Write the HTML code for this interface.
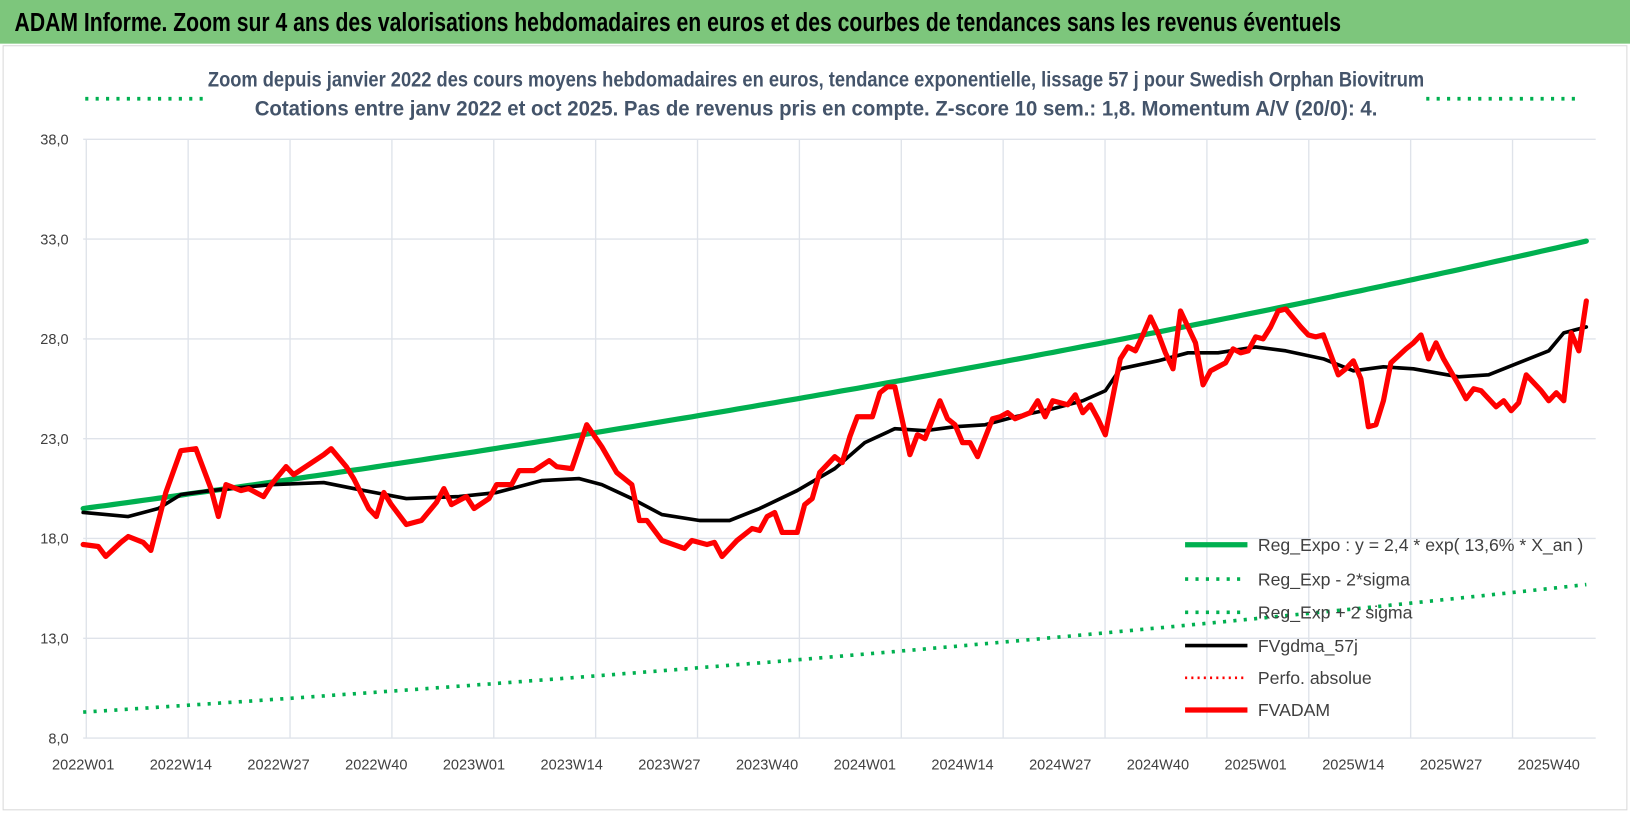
<!DOCTYPE html>
<html><head><meta charset="utf-8"><style>
html,body{margin:0;padding:0;background:#fff;width:1630px;height:815px;overflow:hidden}
svg{display:block;font-family:"Liberation Sans",sans-serif}
</style></head><body>
<svg id="chart" width="1630" height="815" viewBox="0 0 1568 784" preserveAspectRatio="none">
<rect x="0" y="0" width="1568" height="784" fill="#fff"/>
<rect x="0" y="0" width="1568" height="42" fill="#7dc67c"/>
<text x="14" y="30" font-size="25" font-weight="bold" fill="#000" textLength="1276" lengthAdjust="spacingAndGlyphs">ADAM Informe. Zoom sur 4 ans des valorisations hebdomadaires en euros et des courbes de tendances sans les revenus éventuels</text>
<rect x="3" y="44" width="1562" height="735" fill="none" stroke="#d9d9d9" stroke-width="1"/>
<text x="785" y="83" font-size="20" font-weight="bold" fill="#44546a" text-anchor="middle" textLength="1170" lengthAdjust="spacingAndGlyphs">Zoom depuis janvier 2022 des cours moyens hebdomadaires en euros, tendance exponentielle, lissage 57 j pour Swedish Orphan Biovitrum</text>
<text x="785" y="111" font-size="20" font-weight="bold" fill="#44546a" text-anchor="middle" textLength="1080" lengthAdjust="spacingAndGlyphs">Cotations entre janv 2022 et oct 2025. Pas de revenus pris en compte. Z-score 10 sem.: 1,8. Momentum A/V (20/0): 4.</text>
<line x1="82" y1="95" x2="196" y2="95" stroke="#00b050" stroke-width="3.5" stroke-dasharray="3,7"/>
<line x1="1372" y1="95" x2="1522" y2="95" stroke="#00b050" stroke-width="3.5" stroke-dasharray="3,7"/>
<g id="grid"></g><g id="axes"></g><g id="series"></g><g id="legend"></g>
</svg>
<script>
const xLabels=["2022W01","2022W14","2022W27","2022W40","2023W01","2023W14","2023W27","2023W40","2024W01","2024W14","2024W27","2024W40","2025W01","2025W14","2025W27","2025W40"];
const yTicks=[8,13,18,23,28,33,38];
const redWeeks=[0,2,3,5,6,8,9,11,13,15,17,18,19,21,22,24,25,27,28,30,32,33,35,36,38,39,40,41,43,45,47,48,49,51,52,54,55,57,58,60,62,63,65,67,69,71,73,74,75,77,80,81,83,84,85,87,89,90,91,92,93,95,96,97,98,100,101,102,103,105,106,107,108,110,111,112,114,115,116,117,118,119,121,122,123,124,126,127,128,129,131,132,133,134,135,136,138,139,140,141,142,143,144,145,146,147,148,149,150,152,153,154,155,156,157,158,159,160,162,163,164,165,167,168,169,170,171,172,173,174,176,177,178,179,180,181,183,184,185,186,188,189,190,191,192,194,195,196,197,198,199,200];
const redValues=[17.7,17.6,17.1,17.8,18.1,17.8,17.4,20.3,22.4,22.5,20.5,19.1,20.7,20.4,20.5,20.1,20.7,21.6,21.2,21.7,22.2,22.5,21.6,21.0,19.5,19.1,20.3,19.7,18.7,18.9,19.8,20.5,19.7,20.1,19.5,20.0,20.7,20.7,21.4,21.4,21.9,21.6,21.5,23.7,22.6,21.3,20.7,18.9,18.9,17.9,17.5,17.9,17.7,17.8,17.1,17.9,18.5,18.4,19.1,19.3,18.3,18.3,19.7,20.0,21.3,22.1,21.8,23.1,24.1,24.1,25.3,25.6,25.6,22.2,23.2,23.0,24.9,24.0,23.7,22.8,22.8,22.1,24.0,24.1,24.3,24.0,24.3,24.9,24.1,24.9,24.7,25.2,24.3,24.7,24.0,23.2,27.0,27.6,27.4,28.2,29.1,28.3,27.3,26.5,29.4,28.6,27.8,25.7,26.4,26.8,27.5,27.3,27.4,28.1,28.0,28.6,29.4,29.5,28.6,28.2,28.1,28.2,26.2,26.5,26.9,26.0,23.6,23.7,24.9,26.8,27.5,27.8,28.2,27.0,27.8,27.0,25.7,25.0,25.5,25.4,24.6,24.9,24.4,24.8,26.2,25.4,24.9,25.3,24.9,28.3,27.4,29.9];
const blackWeeks=[0,6,10,13,17,25,32,36,43,50,55,61,66,69,73,77,82,86,90,95,100,104,108,112,116,120,124,129,133,136,138,143,147,151,156,160,165,169,173,177,183,187,191,195,197,200];
const blackValues=[19.3,19.1,19.5,20.2,20.4,20.7,20.8,20.5,20.0,20.1,20.3,20.9,21.0,20.7,20.0,19.2,18.9,18.9,19.5,20.4,21.5,22.8,23.5,23.4,23.6,23.7,24.1,24.5,24.9,25.4,26.5,26.9,27.3,27.3,27.6,27.4,27.0,26.4,26.6,26.5,26.1,26.2,26.8,27.4,28.3,28.6];
const regStart=19.5, regLowStart=9.3, regRate=0.136, nWeeks=201;

const svg=document.getElementById('chart');
const NS='http://www.w3.org/2000/svg';
const X0=80, XSTEP=7.23, YTOP=134, YBOT=710, YMIN=8, YMAX=38;
const xS=i=>X0+i*XSTEP;
const yS=v=>YBOT-(v-YMIN)/(YMAX-YMIN)*(YBOT-YTOP);
function mk(tag,attrs,parent){const e=document.createElementNS(NS,tag);for(const k in attrs)e.setAttribute(k,attrs[k]);parent.appendChild(e);return e;}
const grid=document.getElementById('grid'),axes=document.getElementById('axes'),series=document.getElementById('series'),legend=document.getElementById('legend');
yTicks.forEach(t=>{
  const l=mk('line',{x1:X0,x2:1535,y1:yS(t),y2:yS(t),stroke:'#dfe3ea','stroke-width':1.3},grid);
  
  
  const tx=mk('text',{x:66,y:yS(t)+5,'font-size':14,fill:'#404040','text-anchor':'end'},axes);
  tx.textContent=t.toFixed(1).replace('.',',');
  
  
});
for(let gx=83;gx<=1535;gx+=98){
  const l=mk('line',{x1:gx,x2:gx,y1:YTOP,y2:YBOT,stroke:'#dfe3ea','stroke-width':1.3},grid);
  
  
}
xLabels.forEach((lab,k)=>{
  const tx=mk('text',{x:xS(k*13),y:740,'font-size':14,fill:'#404040','text-anchor':'middle'},axes);
  tx.textContent=lab;
  
  
});
function poly(ws,vs,attrs,name){
  const p=ws.map((w,i)=>xS(w).toFixed(1)+','+yS(vs[i]).toFixed(1)).join(' ');
  const e=mk('polyline',Object.assign({points:p,fill:'none','stroke-linejoin':'round','stroke-linecap':'round'},attrs),series);
  
  
}
const allW=[...Array(nWeeks).keys()];
poly(allW,allW.map(i=>regLowStart*Math.exp(regRate*i/52)),{stroke:'#00b050','stroke-width':3.5,'stroke-dasharray':'3,7','stroke-linecap':'butt'},'reg-exp-lower-band');
poly(allW,allW.map(i=>regStart*Math.exp(regRate*i/52)),{stroke:'#00b050','stroke-width':5},'reg-expo-line');
poly(blackWeeks,blackValues,{stroke:'#000','stroke-width':3.5},'fvgdma-57j-line');
poly(redWeeks,redValues,{stroke:'#ff0000','stroke-width':5},'fvadam-line');
const leg=[['Reg_Expo : y = 2,4 * exp( 13,6% * X_an )','#00b050',5,null],['Reg_Exp - 2*sigma','#00b050',3.5,'3,7'],['Reg_Exp + 2 sigma','#00b050',3.5,'3,7'],['FVgdma_57j','#000',3.5,null],['Perfo. absolue','#ff0000',2.5,'2,4'],['FVADAM','#ff0000',5,null]];
const legY=[524,557,589,621,652,683];
leg.forEach((d,i)=>{
  const a={x1:1140,x2:1200,y1:legY[i],y2:legY[i],stroke:d[1],'stroke-width':d[2]};
  if(d[3])a['stroke-dasharray']=d[3];
  const l=mk('line',a,legend);
  
  
  const t=mk('text',{x:1210,y:legY[i]+6,'font-size':17,fill:'#404040'},legend);
  t.textContent=d[0];
  
  
});
</script>
</body></html>
